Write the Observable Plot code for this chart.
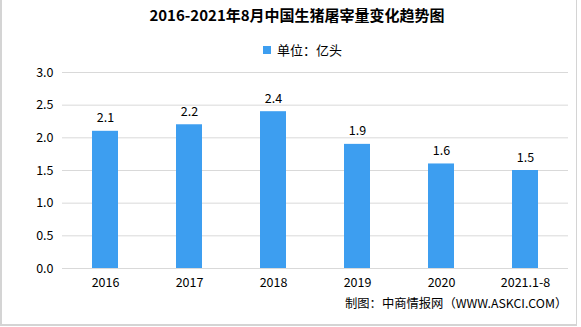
<!DOCTYPE html>
<html>
<head>
<meta charset="utf-8">
<script src="https://cdn.jsdelivr.net/npm/d3@7"></script>
<script src="https://cdn.jsdelivr.net/npm/@observablehq/plot@0.6"></script>
<style>
  html, body { margin: 0; padding: 0; background: #fff; }
  #wrap { position: relative; width: 581px; height: 327px; overflow: hidden; font-family: "Noto Sans CJK SC", "Noto Sans", sans-serif; }
  #frame { position: absolute; left: 0; top: -2px; width: 577px; height: 328px; border-left: 2px solid #d4d4d4; border-right: 1px solid #d4d4d4; border-bottom: 2px solid #d4d4d4; box-sizing: border-box; }
  #title { position: absolute; left: 0; width: 594px; top: 5px; text-align: center; font-size: 15px; font-weight: bold; color: #000; line-height: 20px; }
  #legend { position: absolute; left: 263px; top: 41px; font-size: 13px; line-height: 18px; color: #000; display: flex; align-items: center; }
  #legend .sw { width: 8px; height: 8px; background: #3d9ef0; margin-right: 6px; }
  #caption { position: absolute; left: 345px; top: 294px; font-size: 12.3px; line-height: 18px; color: #000; }
  #chart { position: absolute; left: 0; top: 0; }
</style>
</head>
<body>
<div id="wrap">
  <div id="chart"></div>
  <div id="frame"></div>
  <div id="title">2016-2021年8月中国生猪屠宰量变化趋势图</div>
  <div id="legend"><span class="sw"></span><span>单位：亿头</span></div>
  <div id="caption">制图：中商情报网（WWW.ASKCI.COM）</div>
</div>
<script>
const categories = ["2016", "2017", "2018", "2019", "2020", "2021.1-8"];
const values = [2.1, 2.2, 2.4, 1.9, 1.6, 1.5];
const yTicks = [0, 0.5, 1.0, 1.5, 2.0, 2.5, 3.0];

const data = categories.map((c, i) => ({category: c, value: values[i]}));

const chart = Plot.plot({
  width: 581,
  height: 327,
  marginTop: 72,
  marginBottom: 59,
  marginLeft: 62,
  marginRight: 13,
  style: {fontFamily: "'Noto Sans CJK SC', 'Noto Sans', sans-serif", fontSize: "12px", color: "#000", background: "transparent"},
  x: {domain: categories, paddingInner: 0.69, paddingOuter: 0.345, label: null},
  y: {domain: [0, 3], label: null},
  marks: [
    Plot.gridY(yTicks, {stroke: "#d9d9d9", strokeOpacity: 1, strokeWidth: 1}),
    Plot.barY(data, {x: "category", y: "value", fill: "#3d9ef0"}),
    Plot.text(data, {x: "category", y: "value", text: d => d.value.toFixed(1), dy: -9, lineAnchor: "bottom", fontSize: 12.5, fill: "#000"}),
    Plot.axisY(yTicks, {tickSize: 0, tickPadding: 9, tickFormat: d => d.toFixed(1), fontSize: 12.5, fill: "#000"}),
    Plot.axisX({tickSize: 0, tickPadding: 10, fontSize: 12.5, fill: "#000"})
  ]
});
document.getElementById("chart").appendChild(chart);
</script>
</body>
</html>
